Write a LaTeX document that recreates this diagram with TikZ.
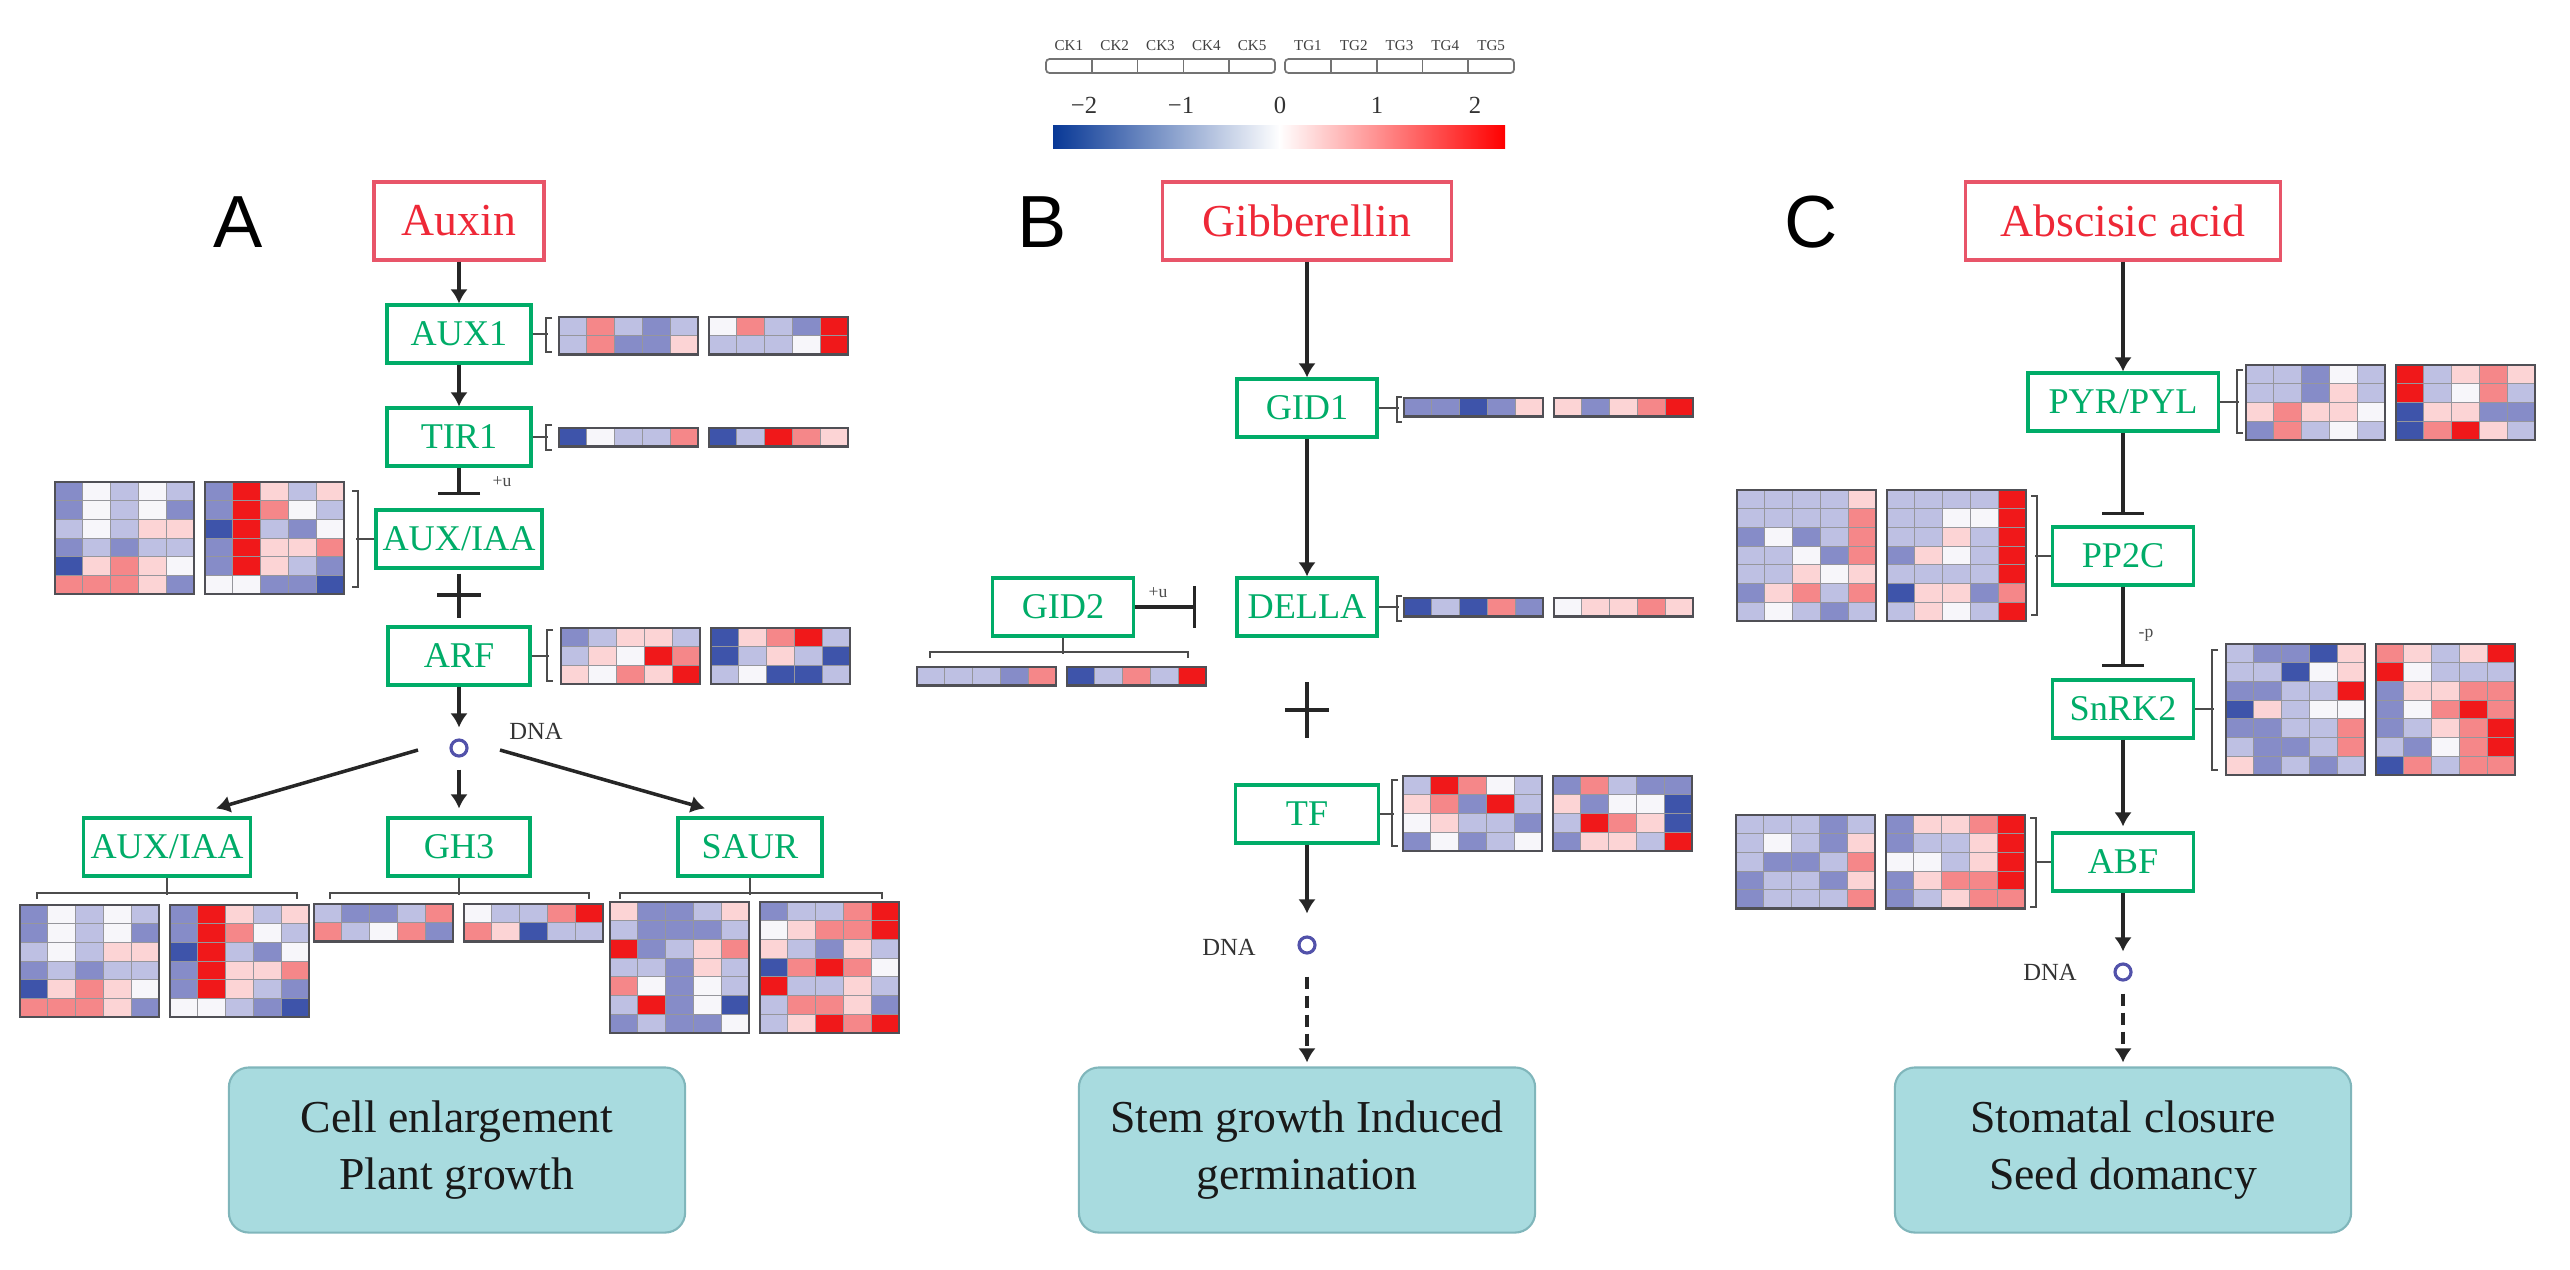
\documentclass[tikz,border=0pt]{standalone}
\usepackage{fontspec}
\setmainfont{Liberation Serif}
\newfontfamily\panelfont{Liberation Sans}
\usetikzlibrary{arrows.meta}

\definecolor{hma}{RGB}{62,84,170}
\definecolor{hmb}{RGB}{134,140,200}
\definecolor{hmc}{RGB}{190,192,227}
\definecolor{hmw}{RGB}{247,246,250}
\definecolor{hmd}{RGB}{252,212,213}
\definecolor{hme}{RGB}{245,135,137}
\definecolor{hmf}{RGB}{240,24,26}
\definecolor{hmgrid}{RGB}{150,150,156}
\definecolor{hmedge}{RGB}{80,80,86}
\definecolor{hormred}{RGB}{238,40,55}
\definecolor{hormline}{RGB}{232,85,105}
\definecolor{genegreen}{RGB}{0,172,104}
\definecolor{outfill}{RGB}{168,219,223}
\definecolor{outedge}{RGB}{128,182,187}
\definecolor{dnablue}{RGB}{82,82,170}
\definecolor{cbblue}{RGB}{8,56,150}
\definecolor{cbred}{RGB}{255,0,0}

% heatmap: x, y, rows, cell codes
\newcommand\heatmap[4]{%
  \foreach \hrow [count=\i] in {#4} {
    \foreach \hval [count=\j] in \hrow {
      \filldraw[fill=hm\hval, draw=hmgrid, line width=0.3pt]
        ({#1+(\j-1)*27.8},{#2+(\i-1)*18.7}) rectangle ++(27.8,18.7);
    }
  }
  \draw[hmedge, line width=0.7pt] ({#1},{#2}) rectangle ++(139,{#3*18.7});
}
\newcommand\hmpair[5]{\heatmap{#1}{#2}{#3}{#4}\heatmap{#1+150}{#2}{#3}{#5}}
\newcommand\sidebrk[4]{\draw[brk] ({#1+#4},#2) -- (#1,#2) -- (#1,#3) -- ({#1+#4},#3);}
\newcommand\lowbrk[3]{\draw[brk] (#1,{#3+6}) -- (#1,#3) -- (#2,#3) -- (#2,{#3+6});}

\begin{document}
\begin{tikzpicture}[x=0.01cm, y=-0.01cm, >={Latex[length=4pt,width=5pt]},
  hormone/.style={draw=hormline, text=hormred, line width=0.9pt, minimum height=0.78cm, inner sep=2pt, font=\fontsize{13}{15}\selectfont},
  gene/.style={draw=genegreen, text=genegreen, line width=0.9pt, minimum height=0.58cm, inner sep=1pt, font=\fontsize{10.3}{12}\selectfont},
  outcome/.style={draw=outedge, fill=outfill, line width=0.6pt, rounded corners=0.2cm, minimum width=4.56cm, minimum height=1.65cm, align=center, font=\fontsize{13}{16}\selectfont, text=black!90},
  dna/.style={circle, draw=dnablue, line width=0.9pt, minimum size=0.16cm, inner sep=0pt},
  arr/.style={->, draw=black!85, line width=1pt},
  inhib/.style={-{Bar[width=12pt]}, draw=black!85, line width=1pt},
  brk/.style={draw=black!70, line width=0.8pt},
  panellabel/.style={font=\panelfont\fontsize{21}{25}\selectfont},
  dnatext/.style={font=\fontsize{7}{8}\selectfont, text=black!80},
  modtext/.style={font=\fontsize{5}{6}\selectfont, text=black!70},
  keytext/.style={font=\fontsize{4.3}{5}\selectfont, text=black!75},
  cbnum/.style={font=\fontsize{7}{8}\selectfont, text=black!80},
  keybox/.style={draw=black!55, line width=0.5pt, rounded corners=1pt}]

\useasboundingbox (0,0) rectangle (2570,1269);

% legend
\foreach \k in {1,...,5} {
  \node[keytext] (ck\k) at ({1046+45.8*(\k-0.5)},46) {CK\k};
  \node[keytext] (tg\k) at ({1285+45.8*(\k-0.5)},46) {TG\k};
}
\draw[keybox] (1046,59) rectangle (1275,73);
\draw[keybox] (1285,59) rectangle (1514,73);
\foreach \k in {1,...,4} {
  \draw[keybox] ({1046+45.8*\k},59) -- ++(0,14);
  \draw[keybox] ({1285+45.8*\k},59) -- ++(0,14);
}
\shade[left color=cbblue, right color=white] (1053,125) rectangle (1280,148);
\shade[left color=white, right color=cbred] (1279,125) rectangle (1505,148);
\node[cbnum] (cbm2) at (1084,105) {−2};
\node[cbnum] (cbm1) at (1181,105) {−1};
\node[cbnum] (cb0) at (1280,105) {0};
\node[cbnum] (cbp1) at (1377,105) {1};
\node[cbnum] (cbp2) at (1475,105) {2};

% panel letters
\node[panellabel] (labA) at (238,222) {A};
\node[panellabel] (labB) at (1042,222) {B};
\node[panellabel] (labC) at (1811,222) {C};

% auxin
\node[hormone, minimum width=1.7cm] (auxin) at (459,221) {Auxin};
\node[gene, minimum width=1.44cm] (aux1) at (459,334) {AUX1};
\node[gene, minimum width=1.44cm] (tir1) at (459,437) {TIR1};
\node[gene, minimum width=1.66cm] (iaa) at (459,539) {AUX/IAA};
\node[gene, minimum width=1.42cm] (arf) at (459,656) {ARF};
\node[dna] (dnaA) at (459,748) {};
\node[dnatext] (dnalabA) at (536,731) {DNA};
\node[gene, minimum width=1.67cm] (iaa2) at (167,847) {AUX/IAA};
\node[gene, minimum width=1.42cm] (gh3) at (459,847) {GH3};
\node[gene, minimum width=1.44cm] (saur) at (750,847) {SAUR};
\node[modtext] (ubA) at (502,482) {+u};

\draw[arr] (auxin) -- (aux1);
\draw[arr] (aux1) -- (tir1);
\draw[inhib, shorten >=0.13cm] (tir1) -- (iaa);
\draw[brk, draw=black!85, line width=1pt, shorten <=0.04cm, shorten >=0.07cm] (iaa) -- (arf);
\coordinate (plusA) at (459,595);
\draw[draw=black!85, line width=1pt] (plusA) ++(-22,0) -- ++(44,0);
\draw[arr, shorten >=0.11cm] (arf) -- (dnaA);
\coordinate (dnaAl) at (418,750);
\coordinate (dnaAr) at (500,750);
\draw[arr] (dnaAl) -- ([xshift=0.49cm,yshift=0.08cm]iaa2.north);
\draw[arr, shorten <=0.12cm, shorten >=0.08cm] (dnaA) -- (gh3);
\draw[arr] (dnaAr) -- ([xshift=-0.45cm,yshift=0.08cm]saur.north);

\draw[brk] (aux1.east) -- ++(15,0);
\sidebrk{546}{318}{352}{6}
\draw[brk] (tir1.east) -- ++(15,0);
\sidebrk{546}{425}{450}{6}
\draw[brk] (iaa.west) -- ++(-18,0);
\sidebrk{358}{491}{587}{-6}
\draw[brk] (arf.east) -- ++(17,0);
\sidebrk{547}{630}{681}{6}
\draw[brk] (iaa2.south) -- ++(0,17);
\lowbrk{37}{297}{893}
\draw[brk] (gh3.south) -- ++(0,17);
\lowbrk{330}{589}{893}
\draw[brk] (saur.south) -- ++(0,17);
\lowbrk{620}{882}{893}

\hmpair{559}{317}{2}{{c,e,c,b,c},{c,e,b,b,d}}{{w,e,c,b,f},{c,c,c,w,f}}
\hmpair{559}{428}{1}{{a,w,c,c,e}}{{a,c,f,e,d}}
\hmpair{55}{482}{6}{{b,w,c,w,c},{b,w,c,w,b},{c,w,c,d,d},{b,c,b,c,c},{a,d,e,d,w},{e,e,e,d,b}}{{b,f,d,c,d},{b,f,e,w,c},{a,f,c,b,w},{b,f,d,d,e},{b,f,d,c,b},{w,w,b,b,a}}
\hmpair{561}{628}{3}{{b,c,d,d,c},{c,d,w,f,e},{d,w,e,d,f}}{{a,d,e,f,c},{a,c,d,c,a},{c,w,a,a,c}}
\hmpair{20}{905}{6}{{b,w,c,w,c},{b,w,c,w,b},{c,w,c,d,d},{b,c,b,c,c},{a,d,e,d,w},{e,e,e,d,b}}{{b,f,d,c,d},{b,f,e,w,c},{a,f,c,b,w},{b,f,d,d,e},{b,f,d,c,b},{w,w,c,b,a}}
\hmpair{314}{904}{2}{{c,b,b,c,e},{e,c,w,e,b}}{{w,c,c,e,f},{e,d,a,c,c}}
\hmpair{610}{902}{7}{{d,b,b,c,d},{c,b,b,b,c},{f,b,c,d,e},{c,c,b,d,c},{e,w,b,w,c},{c,f,b,w,a},{b,c,b,b,w}}{{b,c,c,e,f},{w,d,e,e,f},{d,c,b,d,c},{a,e,f,e,w},{f,c,c,d,c},{c,e,e,d,b},{c,d,f,e,f}}

\node[outcome] (outA) at (457,1150) {Cell enlargement\\Plant growth};

% gibberellin
\node[hormone, minimum width=2.89cm] (gib) at (1307,221) {Gibberellin};
\node[gene, minimum width=1.4cm] (gid1) at (1307,408) {GID1};
\node[gene, minimum width=1.4cm] (della) at (1307,607) {DELLA};
\node[gene, minimum width=1.41cm] (gid2) at (1063,607) {GID2};
\node[gene, minimum width=1.43cm] (tf) at (1307,814) {TF};
\node[dna] (dnaB) at (1307,945) {};
\node[dnatext] (dnalabB) at (1229,947) {DNA};
\node[modtext] (ubB) at (1158,593) {+u};

\draw[arr] (gib) -- (gid1);
\draw[arr] (gid1) -- (della);
\coordinate (gid2bar) at (1196,607);
\draw[inhib] (gid2) -- (gid2bar);
\coordinate (plusB) at (1307,710);
\draw[draw=black!85, line width=1pt] (plusB) ++(0,-28) -- ++(0,56);
\draw[draw=black!85, line width=1pt] (plusB) ++(-22,0) -- ++(44,0);
\draw[arr, shorten >=0.22cm] (tf) -- (dnaB);

\draw[brk] (gid1.east) -- ++(20,0);
\sidebrk{1397}{397}{422}{5}
\draw[brk] (della.east) -- ++(20,0);
\sidebrk{1397}{596}{621}{5}
\draw[brk] (tf.east) -- ++(14,0);
\sidebrk{1392}{780}{846}{6}
\draw[brk] (gid2.south) -- ++(0,16);
\lowbrk{930}{1188}{652}

\hmpair{1404}{398}{1}{{b,b,a,b,d}}{{d,b,d,e,f}}
\hmpair{1404}{598}{1}{{a,c,a,e,b}}{{w,d,d,e,d}}
\hmpair{917}{667}{1}{{c,c,c,b,e}}{{a,c,e,c,f}}
\hmpair{1403}{776}{4}{{c,f,e,w,c},{d,e,b,f,c},{w,d,c,c,b},{b,w,b,c,w}}{{b,e,c,b,b},{d,b,w,w,a},{c,f,e,d,a},{b,d,d,c,f}}

\node[outcome] (outB) at (1307,1150) {Stem growth Induced\\germination};
\draw[arr, dash pattern=on 3.4pt off 2pt, shorten <=0.22cm, shorten >=0.04cm] (dnaB) -- (outB);

% abscisic acid
\node[hormone, minimum width=3.15cm] (aba) at (2123,221) {Abscisic acid};
\node[gene, minimum width=1.9cm] (pyr) at (2123,402) {PYR/PYL};
\node[gene, minimum width=1.41cm] (pp2c) at (2123,556) {PP2C};
\node[gene, minimum width=1.41cm] (snrk) at (2123,709) {SnRK2};
\node[gene, minimum width=1.41cm] (abf) at (2123,862) {ABF};
\node[dna] (dnaC) at (2123,972) {};
\node[dnatext] (dnalabC) at (2050,972) {DNA};
\node[modtext] (pC) at (2146,635) {-p};

\draw[arr] (aba) -- (pyr);
\draw[inhib, shorten >=0.1cm] (pyr) -- (pp2c);
\draw[inhib, shorten >=0.11cm] (pp2c) -- (snrk);
\draw[arr, shorten >=0.05cm] (snrk) -- (abf);
\draw[arr, shorten >=0.11cm] (abf) -- (dnaC);

\draw[brk] (pyr.east) -- ++(19,0);
\sidebrk{2237}{370}{433}{6}
\draw[brk] (pp2c.west) -- ++(-16,0);
\sidebrk{2037}{496}{615}{-6}
\draw[brk] (snrk.east) -- ++(19,0);
\sidebrk{2212}{650}{770}{6}
\draw[brk] (abf.west) -- ++(-16,0);
\sidebrk{2036}{818}{907}{-6}

\hmpair{2246}{365}{4}{{c,c,b,w,c},{c,c,b,d,c},{d,e,d,d,w},{b,e,c,w,c}}{{f,c,d,e,d},{f,c,w,e,c},{a,d,d,b,b},{a,e,f,d,c}}
\hmpair{1737}{490}{7}{{c,c,c,c,d},{c,c,c,c,e},{b,w,b,c,e},{c,c,w,b,e},{c,c,d,w,d},{b,d,e,c,e},{c,w,c,b,c}}{{c,c,c,c,f},{c,c,w,w,f},{c,c,d,c,f},{b,d,w,c,f},{c,c,c,c,f},{a,d,d,b,e},{c,d,w,c,f}}
\hmpair{2226}{644}{7}{{c,b,b,a,d},{c,c,a,w,d},{b,b,c,c,f},{a,d,c,w,w},{b,b,c,c,e},{c,b,b,c,e},{d,b,c,b,c}}{{e,d,c,d,f},{f,w,c,c,c},{b,d,d,e,e},{b,w,e,f,e},{b,c,d,e,f},{c,b,w,e,f},{a,e,c,e,e}}
\hmpair{1736}{815}{5}{{c,c,c,b,c},{c,w,c,b,d},{c,b,b,c,e},{b,c,c,b,d},{b,c,c,c,e}}{{b,d,d,e,f},{b,c,c,d,f},{w,w,c,d,f},{b,d,e,e,f},{b,c,d,e,e}}

\node[outcome] (outC) at (2123,1150) {Stomatal closure\\Seed domancy};
\draw[arr, dash pattern=on 3.4pt off 2pt, shorten <=0.12cm, shorten >=0.04cm] (dnaC) -- (outC);

\end{tikzpicture}
\end{document}
